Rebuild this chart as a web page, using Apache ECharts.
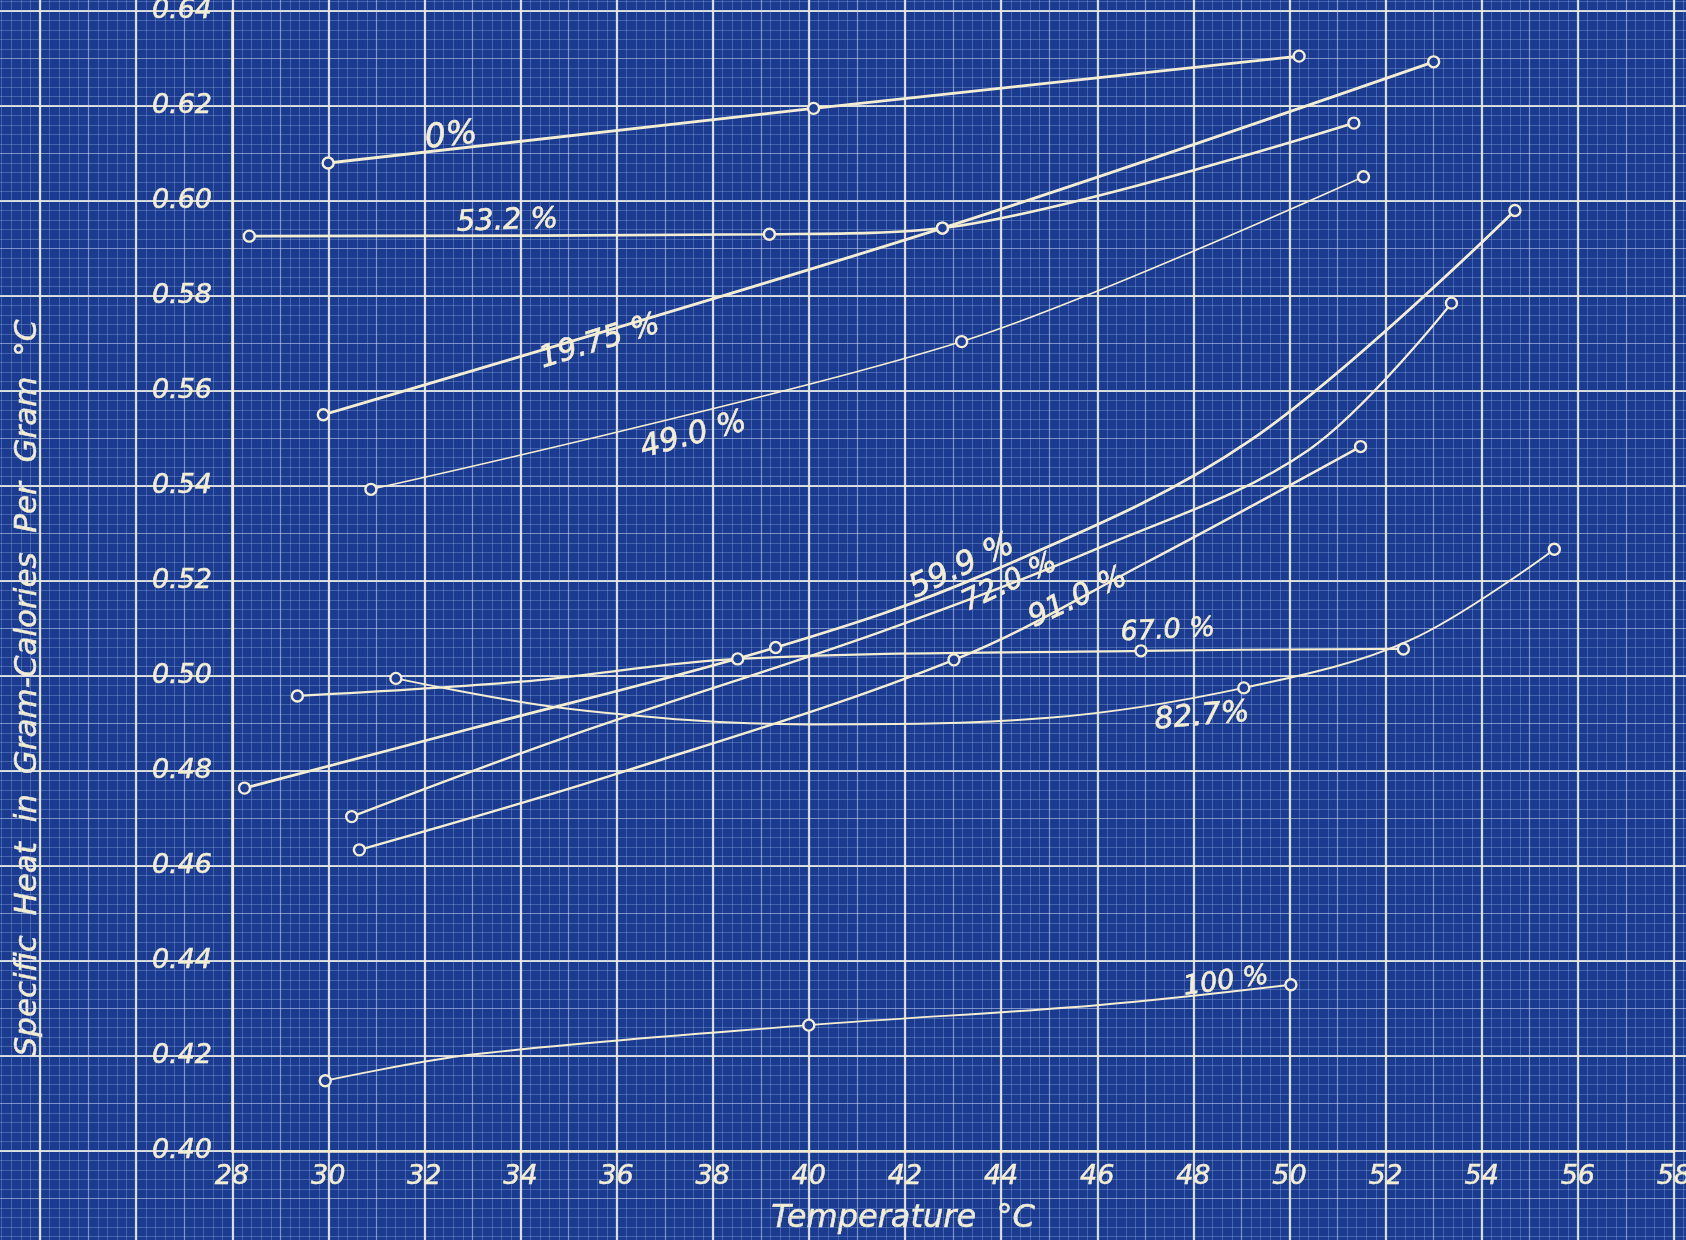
<!DOCTYPE html>
<html>
<head>
<meta charset="utf-8">
<script src="https://cdn.jsdelivr.net/npm/echarts@6/dist/echarts.min.js"></script>
<style>
  html, body { margin: 0; padding: 0; background: #1b3b91; }
  #chart { width: 1686px; height: 1240px; }
</style>
</head>
<body>
<div id="chart"></div>
<script>
// readings off the blueprint: [temperature °C, specific heat, 1 = plotted circle, 0 = point on the drawn curve]
const c0    = [[30.0, 0.608, 1], [40.1, 0.6195, 1], [50.2, 0.6305, 1]];
const c532  = [[28.36, 0.5926, 1], [39.18, 0.593, 1], [42.78, 0.5943, 1], [51.34, 0.6164, 1]];
const c1975 = [[29.9, 0.555, 1], [42.78, 0.5943, 1], [53.0, 0.6293, 1]];
const c490  = [[30.89, 0.5393, 1], [43.18, 0.5704, 1], [51.54, 0.6051, 1]];
const c599  = [[28.26, 0.4764, 1], [33.0, 0.489, 0], [39.31, 0.506, 1], [43.7, 0.5216, 0], [49.2, 0.5497, 0],
               [54.69, 0.598, 1]];
const c720  = [[30.49, 0.4704, 1], [35.0, 0.4873, 0], [41.5, 0.5093, 0], [46.0, 0.5268, 0], [50.4, 0.5476, 0],
               [53.37, 0.5785, 1]];
const c910  = [[30.65, 0.4634, 1], [36.0, 0.4794, 0], [43.02, 0.5034, 1], [47.0, 0.5238, 0], [51.48, 0.5483, 1]];
const c670  = [[29.36, 0.4958, 1], [34.0, 0.4988, 0], [38.52, 0.5036, 1], [46.91, 0.5053, 1], [52.37, 0.5057, 1]];
const c827  = [[31.41, 0.4995, 1], [35.0, 0.4931, 0], [40.0, 0.4898, 0], [45.0, 0.4912, 0], [49.05, 0.4975, 1],
               [52.5, 0.5075, 0], [55.51, 0.5267, 1]];
const c100  = [[29.94, 0.4148, 1], [33.0, 0.4203, 0], [40.0, 0.4265, 1], [46.0, 0.4307, 0], [50.03, 0.435, 1]];

// handwritten curve labels and where they sit (in data units)
const labelText = ['0%', '53.2 %', '19.75 %', '49.0 %', '59.9 %', '72.0 %', '91.0 %', '67.0 %', '82.7%', '100 %'];
const labelAt = [[32.56, 0.6136], [33.73, 0.5957], [35.65, 0.5703], [37.6, 0.5506], [43.19, 0.523],
                 [44.18, 0.5196], [45.6, 0.5164], [47.47, 0.5095], [48.18, 0.4914], [48.68, 0.4356]];
const labelTilt = [6, 2, 17, 15, 25, 25, 25, 3, 5, 8];
const labelSize = [33, 29, 30, 31, 32, 29, 30, 27, 30, 27];

const ink = '#f3eed3';
const hand = '"DejaVu Sans", sans-serif';

const curves = [
  { pts: c0, w: 2.8, smooth: false },
  { pts: c532, w: 2.6, smooth: 0.3 },
  { pts: c1975, w: 2.8, smooth: 0.3 },
  { pts: c490, w: 1.6, smooth: 0.3 },
  { pts: c599, w: 2.8, smooth: 0.35 },
  { pts: c720, w: 2.4, smooth: 0.35 },
  { pts: c910, w: 2.4, smooth: 0.35 },
  { pts: c670, w: 2.2, smooth: 0.35 },
  { pts: c827, w: 2.0, smooth: 0.35 },
  { pts: c100, w: 2.0, smooth: 0.35 }
];

// the graph paper runs past the plot on every side
const paperBox = { left: -56, right: -84, top: -84, bottom: -6, outerBoundsMode: 'none', containLabel: false };
const plotBox = { left: 232, right: 12, top: 11, bottom: 89, outerBoundsMode: 'none', containLabel: false };

const hidden = { axisLine: { show: false }, axisTick: { show: false }, axisLabel: { show: false } };

const chart = echarts.init(document.getElementById('chart'));

const series = curves.map(c => ({
  type: 'line',
  xAxisIndex: 2,
  yAxisIndex: 2,
  smooth: c.smooth,
  showAllSymbol: true,
  symbolSize: 11,
  lineStyle: { color: ink, width: c.w },
  itemStyle: { color: '#1f3f96', borderColor: ink, borderWidth: 2.4 },
  data: c.pts.map(p => ({ value: [p[0], p[1]], symbol: p[2] ? 'circle' : 'none' })),
  z: 5
}));

series.push({
  type: 'scatter',
  xAxisIndex: 2,
  yAxisIndex: 2,
  symbol: 'circle',
  symbolSize: 1,
  itemStyle: { color: 'rgba(0,0,0,0)', opacity: 1 },
  data: labelAt.map((p, i) => ({
    value: p,
    label: { show: true, formatter: labelText[i], rotate: labelTilt[i], fontSize: labelSize[i] }
  })),
  label: {
    position: 'inside',
    color: ink,
    opacity: 1,
    fontStyle: 'italic',
    fontFamily: hand,
    textBorderColor: ink,
    textBorderWidth: 0.6
  },
  z: 6
});

chart.setOption({
  backgroundColor: '#1b3b91',
  animation: false,
  grid: [
    Object.assign({}, paperBox),
    Object.assign({}, paperBox),
    Object.assign({}, plotBox)
  ],
  xAxis: [
    Object.assign({
      gridIndex: 0, type: 'value', min: 22, max: 60, interval: 1,
      splitLine: { show: true, lineStyle: { color: 'rgba(205,220,245,0.55)', width: 1.2 } },
      minorTick: { show: false, splitNumber: 5 },
      minorSplitLine: { show: true, lineStyle: { color: 'rgba(165,192,240,0.30)', width: 1 } }
    }, hidden),
    Object.assign({
      gridIndex: 1, type: 'value', min: 22, max: 60, interval: 2,
      splitLine: { show: true, lineStyle: { color: 'rgba(235,236,228,0.88)', width: 2.2 } }
    }, hidden),
    {
      gridIndex: 2, type: 'value', min: 28, max: 58, interval: 2,
      axisLine: { show: true, lineStyle: { color: ink, width: 2.6 } },
      axisTick: { show: false },
      splitLine: { show: false },
      axisLabel: {
        color: ink, fontSize: 27, fontStyle: 'italic', fontFamily: hand, margin: 12,
        textBorderColor: ink, textBorderWidth: 0.5
      }
    }
  ],
  yAxis: [
    Object.assign({
      gridIndex: 0, type: 'value', min: 0.38, max: 0.66, interval: 0.01,
      splitLine: { show: true, lineStyle: { color: 'rgba(205,220,245,0.55)', width: 1.2 } },
      minorTick: { show: false, splitNumber: 5 },
      minorSplitLine: { show: true, lineStyle: { color: 'rgba(165,192,240,0.30)', width: 1 } }
    }, hidden),
    Object.assign({
      gridIndex: 1, type: 'value', min: 0.38, max: 0.66, interval: 0.02,
      splitLine: { show: true, lineStyle: { color: 'rgba(235,236,228,0.88)', width: 2.2 } }
    }, hidden),
    {
      gridIndex: 2, type: 'value', min: 0.40, max: 0.64, interval: 0.02,
      axisLine: { show: true, lineStyle: { color: ink, width: 2.6 } },
      axisTick: { show: false },
      splitLine: { show: false },
      axisLabel: {
        color: ink, fontSize: 27, fontStyle: 'italic', fontFamily: hand, margin: 20,
        textBorderColor: ink, textBorderWidth: 0.5,
        formatter: v => v.toFixed(2)
      }
    }
  ],
  graphic: [
    {
      type: 'text', x: 903, y: 1219,
      style: {
        text: 'Temperature  °C', fill: ink, font: 'italic 32px ' + hand,
        stroke: ink, lineWidth: 0.5,
        textAlign: 'center', textVerticalAlign: 'middle'
      }
    },
    {
      type: 'text', x: 28, y: 688, rotation: Math.PI / 2,
      style: {
        text: 'Specific  Heat  in  Gram-Calories  Per  Gram  °C', fill: ink, font: 'italic 31px ' + hand,
        stroke: ink, lineWidth: 0.5,
        textAlign: 'center', textVerticalAlign: 'middle'
      }
    }
  ],
  series: series
});
</script>
</body>
</html>
